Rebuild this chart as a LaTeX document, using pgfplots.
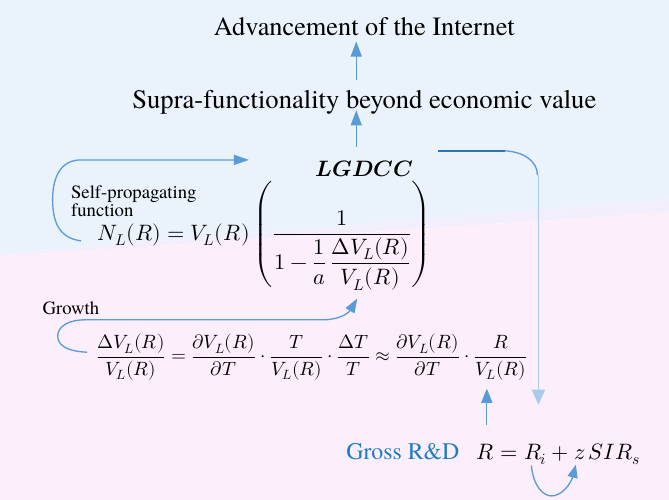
\documentclass[border=0pt]{standalone}
\usepackage{pgfplots}
\pgfplotsset{compat=1.18}
\usepackage{fontspec}
\usepackage{unicode-math}
\setmainfont{texgyretermes}[Extension=.otf,UprightFont=*-regular,BoldFont=*-bold,ItalicFont=*-italic,BoldItalicFont=*-bolditalic]
\setmathfont{Latin Modern Math}
\usetikzlibrary{arrows.meta}
\definecolor{bgblue}{HTML}{EAF3FC}
\definecolor{bgpink}{HTML}{FCEEFB}
\definecolor{band}{HTML}{F3EEFC}
\definecolor{arr}{HTML}{5B9BD5}
\definecolor{arrdark}{HTML}{2E75B6}
\definecolor{arrlight}{HTML}{A8CBEA}
\definecolor{gross}{HTML}{1E7BC6}
\begin{document}
\begin{tikzpicture}
\begin{axis}[width=669pt,height=497pt,scale only axis,
  xmin=0,xmax=669,ymin=0,ymax=497,y dir=reverse,hide axis,clip=false]
% backgrounds
\addplot[draw=none,fill=bgblue] coordinates {(8,3) (669,3) (669,200) (8,254)} -- cycle;
\addplot[draw=none,fill=band] coordinates {(8,254) (669,200) (669,213) (8,256)} -- cycle;
\addplot[draw=none,fill=bgpink] coordinates {(8,256) (669,213) (669,497) (8,497)} -- cycle;
% texts
\node[anchor=base,inner sep=0] at (axis cs:368,38) {\fontsize{26}{30}\selectfont Advancement of the Internet};
\node[anchor=base,inner sep=0] at (axis cs:368,110) {\fontsize{26.3}{30}\selectfont Supra-functionality beyond economic value};
\node[anchor=base,inner sep=0] at (axis cs:368,177) {\fontsize{22}{26}\selectfont $\symbfit{LGDCC}$};
\node[anchor=base west,inner sep=0] at (axis cs:78,199) {\fontsize{18.5}{18}\selectfont Self-propagating};
\node[anchor=base west,inner sep=0] at (axis cs:78,217) {\fontsize{18.5}{18}\selectfont function};
\node[anchor=base west,inner sep=0] at (axis cs:50,314) {\fontsize{18.5}{18}\selectfont Growth};
\node[anchor=west,inner sep=0] at (axis cs:104,236) {\fontsize{22}{26}\selectfont $\displaystyle N_L(R)=V_L(R)\left(\frac{1}{1-\dfrac{1}{a}\,\dfrac{\Delta V_L(R)}{V_L(R)}}\right)$};
\node[anchor=west,inner sep=0] at (axis cs:103,356) {\fontsize{19}{23}\selectfont $\displaystyle \frac{\Delta V_L(R)}{V_L(R)}=\frac{\partial V_L(R)}{\partial T}\cdot\frac{T}{V_L(R)}\cdot\frac{\Delta T}{T}\approx\frac{\partial V_L(R)}{\partial T}\cdot\frac{R}{V_L(R)}$};
\node[anchor=base west,inner sep=0,text=gross] at (axis cs:350,457) {\fontsize{23.5}{26}\selectfont Gross R\&D};
\node[anchor=base west,inner sep=0] at (axis cs:479,457) {\fontsize{22}{26}\selectfont $R=R_i+z\,SIR_s$};
% arrows
\draw[arr,line width=1.3pt,-{Triangle[length=15pt,width=11pt]}] (axis cs:360,82) -- (axis cs:360,44);
\draw[arr,line width=1.3pt,-{Triangle[length=15pt,width=11pt]}] (axis cs:360,148) -- (axis cs:360,112);
\draw[arr,line width=1.3pt,-{Triangle[length=15pt,width=10pt]}] (axis cs:88,241) .. controls (axis cs:66,238) and (axis cs:60,222) .. (axis cs:60,200) .. controls (axis cs:60,178) and (axis cs:68,161) .. (axis cs:88,161) -- (axis cs:254,161);
\draw[arr,line width=1.3pt,-{Triangle[length=14pt,width=10pt]}] (axis cs:94,351) .. controls (axis cs:72,350) and (axis cs:65,343) .. (axis cs:65,335) .. controls (axis cs:65,326) and (axis cs:75,319) .. (axis cs:92,319) -- (axis cs:327,319) .. controls (axis cs:342,319) and (axis cs:352,313) .. (axis cs:361,298);
\draw[arrdark,line width=2.2pt] (axis cs:441,152) -- (axis cs:507,152);
\draw[arr,line width=1.3pt] (axis cs:507,152) .. controls (axis cs:525,153) and (axis cs:539,162) .. (axis cs:539,176);
\draw[arrlight,line width=1.3pt,-{Triangle[length=15pt,width=13pt]}] (axis cs:540,176) -- (axis cs:540,403);
\draw[arr,line width=1.3pt,-{Triangle[length=14pt,width=11pt]}] (axis cs:489,423) -- (axis cs:489,387);
\draw[arr,line width=1.3pt,-{Triangle[length=13pt,width=10pt]}] (axis cs:533,463) .. controls (axis cs:535,484) and (axis cs:545,493) .. (axis cs:553,493) .. controls (axis cs:563,493) and (axis cs:572,481) .. (axis cs:577,462);
\end{axis}
\end{tikzpicture}
\end{document}
